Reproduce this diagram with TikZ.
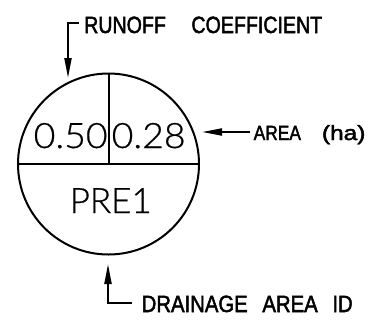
\documentclass[tikz,border=0pt]{standalone}
\usepackage{fontspec}
\setmainfont{Liberation Sans}
\newfontfamily\labfont[FakeBold=2.2]{Liberation Sans}
\newfontfamily\valfont[FakeBold=0.6]{Lato Light}
\usetikzlibrary{arrows.meta}
\begin{document}
\begin{tikzpicture}[x=1pt,y=-1pt,
  line/.style={line width=2pt},
  lead/.style={line width=2pt,-{Triangle[length=20pt,width=7pt]}},
  big/.style={inner sep=0pt,anchor=base west,font=\valfont\fontsize{35}{35}\selectfont},
  lab/.style={inner sep=0pt,anchor=base west,font=\labfont\fontsize{23.5}{23.5}\selectfont},
  sml/.style={inner sep=0pt,anchor=base west,font=\labfont\fontsize{20.5}{20.5}\selectfont}]
\useasboundingbox (0,0) rectangle (372,333);
% circle and dividers
\node[circle,draw,line width=2pt,minimum size=181pt,inner sep=0pt] (c) at (108.5,164) {};
\draw[line] (c.west) -- (c.east);
\draw[line] (c.north) -- (c.center);
% values
\node[big] (coef) at (33.5,148) {\scalebox{1.07}[1]{0.50}};
\node[big] (area) at (111.5,148) {\scalebox{1.07}[1]{0.28}};
\node[big] (id) at (69.5,213) {\scalebox{1.0}[1]{PRE1}};
% labels
\node[lab] (lrun) at (84,33) {\scalebox{0.835}[1]{RUNOFF\hspace{30.5pt}COEFFICIENT}};
\node[sml] (larea) at (253.5,140) {\scalebox{0.847}[1]{AREA}\hspace{21pt}\scalebox{1.19}[1]{(ha)}};
\node[lab] (lid) at (141.5,312) {\scalebox{0.864}[1]{DRAINAGE\hspace{17pt}AREA\hspace{17pt}ID}};
% leaders
\coordinate (r1) at (79,23);
\coordinate (r2) at (68,23);
\coordinate (r3) at (68,78);
\draw[lead] (r1) -- (r2) -- (r3);
\coordinate (a1) at (250,132);
\coordinate (a2) at (202,132);
\draw[lead] (a1) -- (a2);
\coordinate (d1) at (132,303);
\coordinate (d2) at (108,303);
\coordinate (d3) at (108,264);
\draw[lead] (d1) -- (d2) -- (d3);
\end{tikzpicture}
\end{document}
